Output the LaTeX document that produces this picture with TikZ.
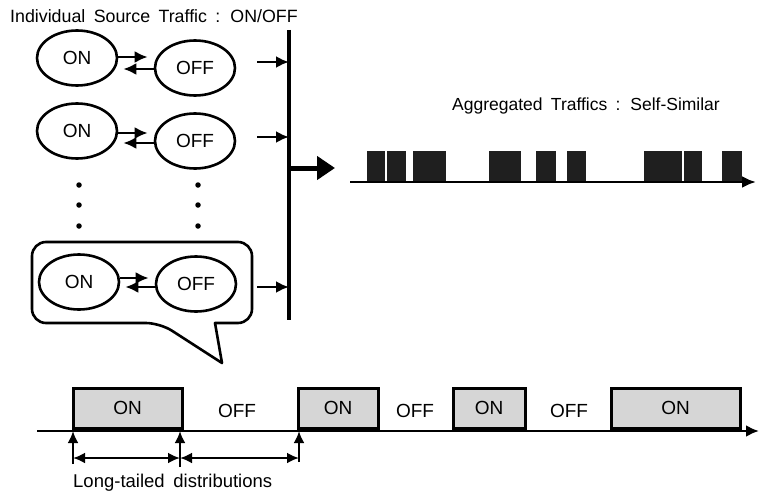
\documentclass[tikz,border=0pt]{standalone}
\usepackage{fontspec}
\setmainfont{Liberation Sans}[WordSpace={1.7,1,1}]
\usetikzlibrary{shapes.geometric,arrows.meta,calc}
\begin{document}
\begin{tikzpicture}[x=1pt,y=-1pt,
  st/.style={draw,ellipse,line width=2.6pt,minimum width=80pt,minimum height=55pt,inner sep=0pt,font=\fontsize{19}{19}\selectfont},
  sw/.style={line width=2.8pt,-{Latex[length=13pt,width=12pt]}},
  feed/.style={line width=2.4pt,-{Latex[length=13pt,width=12pt]}},
  dot/.style={circle,fill=black,inner sep=0pt,minimum size=5.5pt},
  onbox/.style={draw,line width=3pt,fill=gray!32,minimum height=40pt,inner sep=0pt,font=\fontsize{19}{19}\selectfont},
  lbl/.style={inner sep=0pt,font=\fontsize{19}{19}\selectfont},
  bar/.style={fill=black!88},
  dim/.style={line width=2.6pt,{Latex[length=12pt,width=11pt]}-{Latex[length=12pt,width=11pt]}},
  up/.style={line width=2.6pt,-{Latex[length=12pt,width=11pt]}}]
\useasboundingbox (0,0) rectangle (760,495);

% title
\node[inner sep=0pt,font=\fontsize{17.8}{18}\selectfont,anchor=base west] (title) at (10,23) {Individual Source Traffic : ON/OFF};

% bus
\coordinate (bustop) at (289,30);
\coordinate (busbot) at (289,320);
\draw[line width=3.6pt] (bustop) -- (busbot);

% row 1
\node[st] (on1) at (77,58) {ON};
\node[st] (off1) at (195,68) {OFF};
\draw[sw,shorten >=6pt] ([yshift=1pt]on1.east) -- ([yshift=1pt]on1.east -| off1.west);
\draw[sw,shorten >=5pt] ([yshift=-1pt]off1.west) -- ([yshift=-1pt]off1.west -| on1.east);
\coordinate (a1) at (257,62);
\draw[feed] (a1) -- (a1 -| bustop);

% row 2
\node[st] (on2) at (77,131) {ON};
\node[st] (off2) at (195,141) {OFF};
\draw[sw,shorten >=6pt] ([yshift=-2pt]on2.east) -- ([yshift=-2pt]on2.east -| off2.west);
\draw[sw,shorten >=5pt] ([yshift=-2pt]off2.west) -- ([yshift=-2pt]off2.west -| on2.east);
\coordinate (a2) at (257,137);
\draw[feed] (a2) -- (a2 -| bustop);

% dots
\foreach \y/\n in {185/1,205/2,226/3}{
  \node[dot] (dl\n) at (79,\y) {};
  \node[dot] (dr\n) at (198,\y) {};
}

% callout
\draw[line width=2.6pt,line join=round] (215,323) [rounded corners=14pt] -- (252,323) -- (252,242) -- (32,242) -- (32,323) -- (160,323) [sharp corners] -- (222,363) -- cycle;

% row 4
\node[st] (on4) at (79,282) {ON};
\node[st] (off4) at (196,284) {OFF};
\draw[sw,shorten >=6pt] ([yshift=4pt]on4.east) -- ([yshift=4pt]on4.east -| off4.west);
\draw[sw,shorten >=5pt] ([yshift=-3pt]off4.west) -- ([yshift=-3pt]off4.west -| on4.east);
\coordinate (a4) at (257,287);
\draw[feed] (a4) -- (a4 -| bustop);

% aggregate arrow
\coordinate (agg) at (289,168);
\coordinate (aggend) at (335,168);
\draw[line width=5pt,-{Triangle[length=18pt,width=23pt]}] (agg) -- (aggend);

% aggregated traffic
\node[inner sep=0pt,font=\fontsize{17.5}{18}\selectfont,anchor=base west] (aggt) at (452,110) {Aggregated Traffics : Self-Similar};
\foreach \a/\b in {367/385,387/406,413/446,489/521,536/556,567/586,644/682,684/702,722/742}{
  \fill[bar] (\a,151) rectangle (\b,182);
}
\coordinate (ax0) at (350,182);
\coordinate (ax1) at (756,182);
\draw[line width=2.8pt,-{Latex[length=14pt,width=12pt]}] (ax0) -- (ax1);

% bottom timeline
\coordinate (t0) at (37,431);
\coordinate (t1) at (759,431);
\node[onbox,minimum width=109pt] (b1) at (127.5,408) {ON};
\node[onbox,minimum width=80pt] (b2) at (338,408) {ON};
\node[onbox,minimum width=72pt] (b3) at (489,408) {ON};
\node[onbox,minimum width=129pt] (b4) at (675.5,408) {ON};
\node[lbl] (f1) at (237,411) {OFF};
\node[lbl] (f2) at (415,411) {OFF};
\node[lbl] (f3) at (569,411) {OFF};
\draw[line width=2.8pt,-{Latex[length=13pt,width=12pt]}] (t0) -- (t1);

% long-tailed markers
\coordinate (u1) at (73,464);
\coordinate (u2) at (180,467);
\coordinate (u3) at (299,462);
\draw[up] (u1) -- (u1 |- t0);
\draw[up] (u2) -- (u2 |- t0);
\draw[up] (u3) -- (u3 |- t0);
\coordinate (h1) at (73,458);
\coordinate (h2) at (180,458);
\coordinate (h3) at (299,458);
\draw[dim] (h1) -- (h2);
\draw[dim] (h2) -- (h3);
\node[inner sep=0pt,font=\fontsize{18.5}{18.5}\selectfont,anchor=base west] (lt) at (73,487) {Long-tailed distributions};
\end{tikzpicture}
\end{document}
